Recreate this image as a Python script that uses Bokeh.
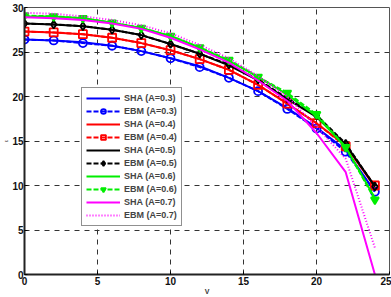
from bokeh.plotting import figure
from bokeh.models import Legend, LegendItem, FixedTicker
from bokeh.embed import file_html
from bokeh.resources import INLINE

x = [0, 2, 4, 6, 8, 10, 12, 14, 16, 18, 20, 22, 24]
sha03 = [26.4, 26.3, 26.1, 25.7, 25.1, 24.3, 23.4, 22.1, 20.6, 18.7, 16.5, 14.0, 9.3]
ebm03 = [26.4, 26.3, 26.0, 25.7, 25.1, 24.3, 23.3, 22.1, 20.6, 18.6, 16.4, 13.8, 9.3]
sha04 = [27.3, 27.2, 27.0, 26.6, 26.0, 25.2, 24.2, 23.0, 21.3, 19.2, 17.0, 14.5, 9.8]
ebm04 = [27.3, 27.2, 27.0, 26.6, 26.0, 25.2, 24.2, 23.0, 21.3, 19.2, 17.0, 14.4, 10.0]
sha05 = [28.2, 28.1, 27.9, 27.5, 26.9, 25.9, 24.8, 23.5, 21.8, 19.7, 17.7, 14.6, 9.9]
ebm05 = [28.2, 28.1, 27.9, 27.5, 26.9, 25.9, 24.8, 23.6, 21.9, 19.8, 17.9, 14.7, 9.9]
sha06 = [29.0, 29.0, 28.8, 28.3, 27.7, 26.8, 25.5, 24.0, 22.2, 20.2, 17.8, 14.3, 8.6]
ebm06 = [29.1, 29.0, 28.8, 28.3, 27.7, 26.8, 25.5, 24.1, 22.2, 20.4, 18.0, 14.3, 8.4]
sha07 = [28.9, 28.8, 28.6, 28.2, 27.6, 26.6, 25.3, 23.8, 21.8, 19.5, 15.9, 11.5, 0.0]
ebm07 = [29.4, 29.3, 29.0, 28.6, 28.0, 27.1, 25.8, 24.3, 22.3, 20.0, 16.6, 13.0, 3.0]

labels_sha = ["SHA (A=0.3)", "SHA (A=0.4)", "SHA (A=0.5)", "SHA (A=0.6)", "SHA (A=0.7)"]
labels_ebm = ["EBM (A=0.3)", "EBM (A=0.4)", "EBM (A=0.5)", "EBM (A=0.6)", "EBM (A=0.7)"]
x_ticks = [0, 5, 10, 15, 20, 25]
y_ticks = [0, 5, 10, 15, 20, 25, 30]

colors = ["#0000ff", "#ff0000", "#000000", "#00ee00", "#ff00ff"]
markers = ["circle", "square", "diamond", "inverted_triangle", None]
fills = [None, None, None, "#00ee00", None]

p = figure(width=391, height=297, output_backend="svg", toolbar_location=None,
           x_range=(0, 25), y_range=(0, 30),
           min_border_left=20, min_border_right=2, min_border_top=7, min_border_bottom=18)

p.outline_line_color = "#555555"
p.outline_line_width = 1
for ax in (p.xaxis[0], p.yaxis[0]):
    ax.axis_line_width = 2
    ax.axis_line_color = "#222222"
    ax.major_tick_in = 3
    ax.major_tick_out = 0
    ax.minor_tick_line_color = None
    ax.major_label_text_font = "Liberation Sans"
    ax.major_label_text_font_style = "bold"
    ax.major_label_text_font_size = "10px"
    ax.major_label_text_color = "#111111"
    ax.axis_label_text_font = "Liberation Sans"
    ax.axis_label_text_font_style = "normal"
    ax.axis_label_text_font_size = "5px"
    ax.axis_label_text_color = "#333333"
p.xaxis.ticker = FixedTicker(ticks=x_ticks)
p.yaxis.ticker = FixedTicker(ticks=y_ticks)
p.xaxis.major_label_standoff = 2
p.yaxis.major_label_standoff = 1
p.xaxis.axis_label = "V"
p.xaxis.axis_label_text_font_size = "7px"
p.xaxis.axis_label_text_font_style = "bold"
p.xaxis.axis_label_standoff = 0
p.yaxis.axis_label = "ε"
p.yaxis.axis_label_standoff = 0

p.xgrid.grid_line_color = "#333333"
p.ygrid.grid_line_color = "#333333"
p.xgrid.grid_line_dash = "5 5"
p.ygrid.grid_line_dash = "5 5"
p.xgrid.grid_line_width = 1
p.ygrid.grid_line_width = 1

sha_all = [sha03, sha04, sha05, sha06, sha07]
ebm_all = [ebm03, ebm04, ebm05, ebm06, ebm07]

items = []
for i in range(5):
    c = colors[i]
    r1 = p.line(x, sha_all[i], line_color=c, line_width=2)
    items.append(LegendItem(label=labels_sha[i], renderers=[r1]))
    if markers[i] is None:
        r2 = p.line(x, ebm_all[i], line_color=c, line_width=2, line_dash="1 2")
        items.append(LegendItem(label=labels_ebm[i], renderers=[r2]))
    else:
        r2 = p.line(x, ebm_all[i], line_color=c, line_width=2, line_dash="5 2")
        r3 = p.scatter(x, ebm_all[i], marker=markers[i], size=8,
                       line_color=c, line_width=1.8,
                       fill_color=fills[i] if fills[i] else "white",
                       fill_alpha=1.0 if fills[i] else 0.0)
        items.append(LegendItem(label=labels_ebm[i], renderers=[r2, r3]))

legend = Legend(items=items, location=(57, 48))
legend.label_text_font = "Liberation Sans"
legend.label_text_font_style = "bold"
legend.label_text_font_size = "9px"
legend.label_height = 12
legend.label_standoff = 4
legend.glyph_height = 12
legend.glyph_width = 34
legend.spacing = 1
legend.padding = 4
legend.margin = 0
legend.border_line_color = "#222222"
legend.border_line_width = 1
legend.background_fill_color = "white"
legend.background_fill_alpha = 1.0
p.add_layout(legend, "center")

open("out.html", "w").write(file_html(p, INLINE))
